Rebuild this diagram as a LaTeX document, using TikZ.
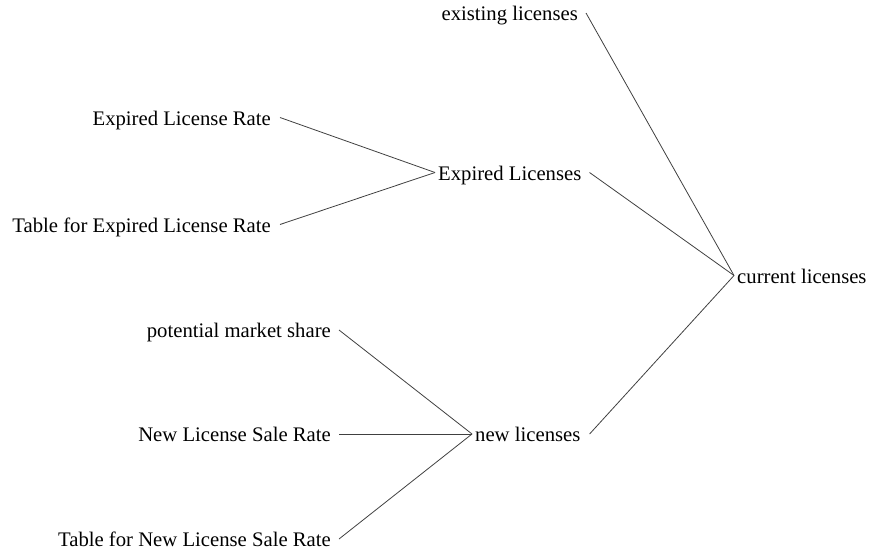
\documentclass[tikz,border=0pt]{standalone}
\usepackage{fontspec}
\setmainfont{Liberation Serif}
\begin{document}
\begin{tikzpicture}[x=1pt,y=-1pt,
  var/.style={inner xsep=0pt,inner ysep=0pt,text height=15pt,text depth=0pt,
    font=\fontsize{20.7}{24}\selectfont},
  src/.style={var,anchor=base east},
  dst/.style={var,anchor=base west},
  link/.style={line width=0.8pt,draw=black!75}]
\useasboundingbox (0,0) rectangle (869,554);

% causes, right-aligned
\node[src] (exist)  at (578,20.5) {existing licenses};
\node[src] (elrate) at (271,125)  {Expired License Rate};
\node[src] (eltab)  at (271,232)  {Table for Expired License Rate};
\node[src] (pms)    at (331,337.5){potential market share};
\node[src] (nlrate) at (331,441.5){New License Sale Rate};
\node[src] (nltab)  at (331,546.5){Table for New License Sale Rate};

% intermediate and result variables
\node[dst] (expl)  at (438,180)   {Expired Licenses};
\node[dst] (newl)  at (475,441.5) {new licenses};
\node[dst] (curl)  at (737,283)   {current licenses};

% links from each cause to the variable it feeds
\draw[link] ([xshift=9pt]elrate.east) -- ([xshift=-3pt]expl.west);
\draw[link] ([xshift=9pt]eltab.east)  -- ([xshift=-3pt]expl.west);
\draw[link] ([xshift=8pt]pms.east)    -- ([xshift=-3pt]newl.west);
\draw[link] ([xshift=8pt]nlrate.east) -- ([xshift=-3pt]newl.west);
\draw[link] ([xshift=8pt]nltab.east)  -- ([xshift=-3pt]newl.west);
\draw[link] ([xshift=8pt]exist.east)  -- ([xshift=-3pt]curl.west);
\draw[link] ([xshift=8pt]expl.east)   -- ([xshift=-3pt]curl.west);
\draw[link] ([xshift=9pt]newl.east)   -- ([xshift=-3pt]curl.west);
\end{tikzpicture}
\end{document}
